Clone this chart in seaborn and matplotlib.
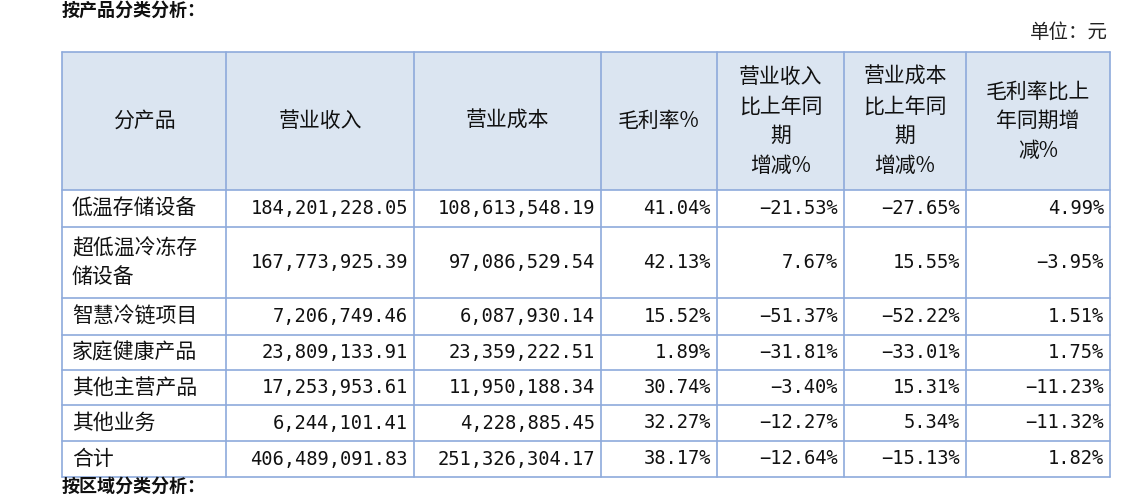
import matplotlib
matplotlib.use("Agg")
import matplotlib.pyplot as plt
import seaborn as sns

sns.set_theme(style="white")
FONT = "Noto Sans CJK SC"
plt.rcParams["font.family"] = FONT

headers = ["分产品", "营业收入", "营业成本", "毛利率%", "营业收入\n比上年同\n期\n增减%", "营业成本\n比上年同\n期\n增减%", "毛利率比上\n年同期增\n减%"]
products = ["低温存储设备", "超低温冷冻存\n储设备", "智慧冷链项目", "家庭健康产品", "其他主营产品", "其他业务", "合计"]
revenue = ["184,201,228.05", "167,773,925.39", "7,206,749.46", "23,809,133.91", "17,253,953.61", "6,244,101.41", "406,489,091.83"]
cost = ["108,613,548.19", "97,086,529.54", "6,087,930.14", "23,359,222.51", "11,950,188.34", "4,228,885.45", "251,326,304.17"]
margin = ["41.04%", "42.13%", "15.52%", "1.89%", "30.74%", "32.27%", "38.17%"]
rev_chg = ["-21.53%", "7.67%", "-51.37%", "-31.81%", "-3.40%", "-12.27%", "-12.64%"]
cost_chg = ["-27.65%", "15.55%", "-52.22%", "-33.01%", "15.31%", "5.34%", "-15.13%"]
margin_chg = ["4.99%", "-3.95%", "1.51%", "1.75%", "-11.23%", "-11.32%", "1.82%"]

col_x = [62, 226, 414, 601, 717, 844, 966, 1110]
row_y = [52, 190, 227, 298, 335, 370, 405, 441, 477]

fig = plt.figure(figsize=(11.32, 4.97), dpi=100)
ax = fig.add_axes([0, 0, 1, 1])
ax.set_xlim(0, 1132)
ax.set_ylim(497, 0)
ax.axis("off")

ax.add_patch(plt.Rectangle((col_x[0], row_y[0]), col_x[-1] - col_x[0], row_y[1] - row_y[0],
                           facecolor="#dbe5f1", edgecolor="none", zorder=0))
lc = "#8eaadb"
for x in col_x:
    ax.plot([x, x], [row_y[0], row_y[-1]], color=lc, lw=1.2)
for y in row_y:
    ax.plot([col_x[0], col_x[-1]], [y, y], color=lc, lw=1.2)

fs = 15
for i, h in enumerate(headers):
    ax.text((col_x[i] + col_x[i + 1]) / 2, (row_y[0] + row_y[1]) / 2, h, ha="center", va="center",
            fontsize=fs, linespacing=1.45, color="#111")

cols = [revenue, cost, margin, rev_chg, cost_chg, margin_chg]
for r in range(len(products)):
    yc = (row_y[r + 1] + row_y[r + 2]) / 2
    ax.text(col_x[0] + 10, yc, products[r], ha="left", va="center", fontsize=fs, linespacing=1.35, color="#111")
    for c, vals in enumerate(cols):
        ax.text(col_x[c + 2] - 6, yc, vals[r].replace("-", "−"), ha="right", va="center",
                fontsize=13.5, family="DejaVu Sans Mono", color="#111")

ax.text(1108, 33, "单位：元", ha="right", va="center", fontsize=14, color="#222")
ax.text(62, 1, "按产品分类分析：", ha="left", va="top", fontsize=13, color="#111", fontweight="bold")
ax.text(62, 496, "按区域分类分析：", ha="left", va="bottom", fontsize=13, color="#111", fontweight="bold")

fig.savefig("out.png", dpi=100)
